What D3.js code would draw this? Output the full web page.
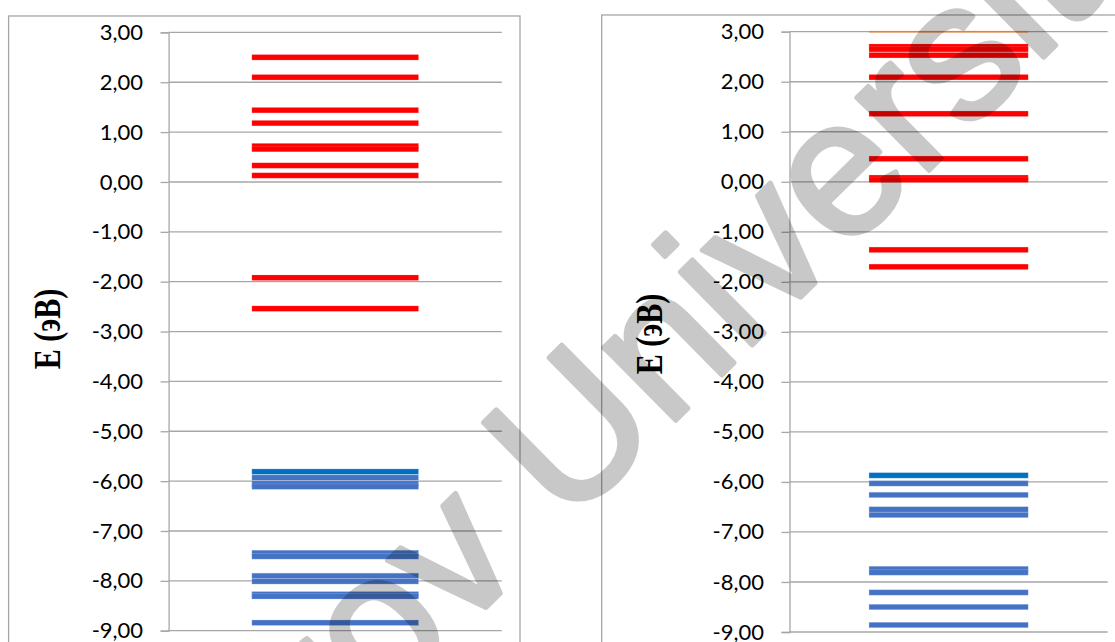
<!DOCTYPE html>
<html><head><meta charset="utf-8">
<script src="https://cdn.jsdelivr.net/npm/d3@7"></script>
<style>body{margin:0;background:#fff}</style>
</head><body>
<script>
// ---- data ----
const yTicks = [3, 2, 1, 0, -1, -2, -3, -4, -5, -6, -7, -8, -9];
const axisTitle = "E (эВ)";
const watermarkText = "Toraighyrov University";

const leftConduction = [2.50, 2.10, 1.44, 1.18, 0.72, 0.66, 0.33, 0.13, -1.92, -2.54];
const leftValenceTop = [-5.81];
const leftValence = [-5.93, -6.05, -6.11, -7.44, -7.51, -7.90, -8.01, -8.27, -8.31, -8.84];

const rightTopLevel = [3.00];
const rightConduction = [2.70, 2.65, 2.53, 2.09, 1.36, 0.46, 0.08, 0.04, -1.36, -1.70];
const rightValenceTop = [-5.87];
const rightValence = [-6.03, -6.26, -6.55, -6.66, -7.74, -7.81, -8.21, -8.50, -8.86];

// ---- drawing ----
const W = 1115, H = 642;
const svg = d3.select("body").append("svg").attr("width", W).attr("height", H);
svg.append("rect").attr("width", W).attr("height", H).attr("fill", "#fff");

const fmt = v => d3.format(".2f")(v).replace(".", ",").replace("\u2212", "-");
const GRID = "#A6A6A6";

const panels = [
  { frame: [8.6, 16, 511.4, 700], xr: [168.6, 501.8], yr: [630.7, 32.4], title: [60, 329],
    series: [
      { data: leftConduction, color: "#FF0000", edge: "#FF9090", w: 5.4, eo: 0.35 },
      { data: leftValenceTop, color: "#0070C0", edge: "#9DC3E6", w: 5.4, eo: 0.5 },
      { data: leftValence, color: "#4472C4", edge: "#B4C7E7", w: 5.4, eo: 0.5 }
    ] },
  { frame: [601.7, 15, 524, 700], xr: [789.5, 1107.7], yr: [632, 31.7], title: [662, 334],
    series: [
      { data: rightTopLevel, color: "#ED7D31", edge: "#ED7D31", w: 1.6, eo: 0 },
      { data: rightConduction, color: "#FF0000", edge: "#FF9090", w: 5.4, eo: 0.35 },
      { data: rightValenceTop, color: "#0070C0", edge: "#9DC3E6", w: 5.4, eo: 0.5 },
      { data: rightValence, color: "#4472C4", edge: "#B4C7E7", w: 5.4, eo: 0.5 }
    ] }
];

panels.forEach(p => {
  const g = svg.append("g");
  g.append("rect").attr("x", p.frame[0]).attr("y", p.frame[1])
    .attr("width", p.frame[2]).attr("height", p.frame[3])
    .attr("fill", "#fff").attr("stroke", GRID).attr("stroke-width", 1.3);

  const x = d3.scaleLinear().domain([0, 4]).range(p.xr);
  const y = d3.scaleLinear().domain([-9, 3]).range(p.yr);

  // gridlines
  g.append("g").selectAll("line").data(yTicks).join("line")
    .attr("x1", x(0)).attr("x2", x(4))
    .attr("y1", d => y(d)).attr("y2", d => y(d))
    .attr("stroke", GRID).attr("stroke-width", 1.3);

  // axis
  const ax = g.append("g").attr("transform", `translate(${x(0)},0)`)
    .call(d3.axisLeft(y).tickValues(yTicks).tickFormat(fmt).tickSize(8).tickPadding(17.5));
  ax.select(".domain").attr("stroke", GRID).attr("stroke-width", 1.3);
  ax.selectAll(".tick line").attr("stroke", GRID).attr("stroke-width", 1.3);
  ax.selectAll(".tick text").attr("fill", "#000")
    .style("font-family", "Lato, 'Open Sans', sans-serif").style("font-size", "22px");

  // levels
  p.series.forEach(s => {
    g.append("g").selectAll("rect").data(s.data).join("rect")
      .attr("x", x(1)).attr("width", x(3) - x(1))
      .attr("y", d => y(d) - s.w / 2).attr("height", s.w)
      .attr("fill", s.color).attr("stroke", s.edge)
      .attr("stroke-opacity", s.eo).attr("stroke-width", 0.6);
  });

  // title
  g.append("text")
    .attr("transform", `translate(${p.title[0]},${p.title[1]}) rotate(-90) scale(1,1.25)`)
    .attr("text-anchor", "middle")
    .style("font-family", "'Liberation Serif', 'Times New Roman', serif")
    .style("font-weight", "bold").style("font-size", "30px")
    .text(axisTitle);
});

// watermark
const wm = svg.append("g").attr("opacity", 0.21);
wm.append("text")
  .attr("transform", "translate(-186,1270) rotate(-44.6)")
  .style("font-family", "'Liberation Sans', Arial, sans-serif")
  .style("font-size", "194px")
  .attr("fill", "#000").attr("stroke", "#000").attr("stroke-width", 5)
  .attr("stroke-linejoin", "round")
  .text(watermarkText);
</script>
</body></html>
